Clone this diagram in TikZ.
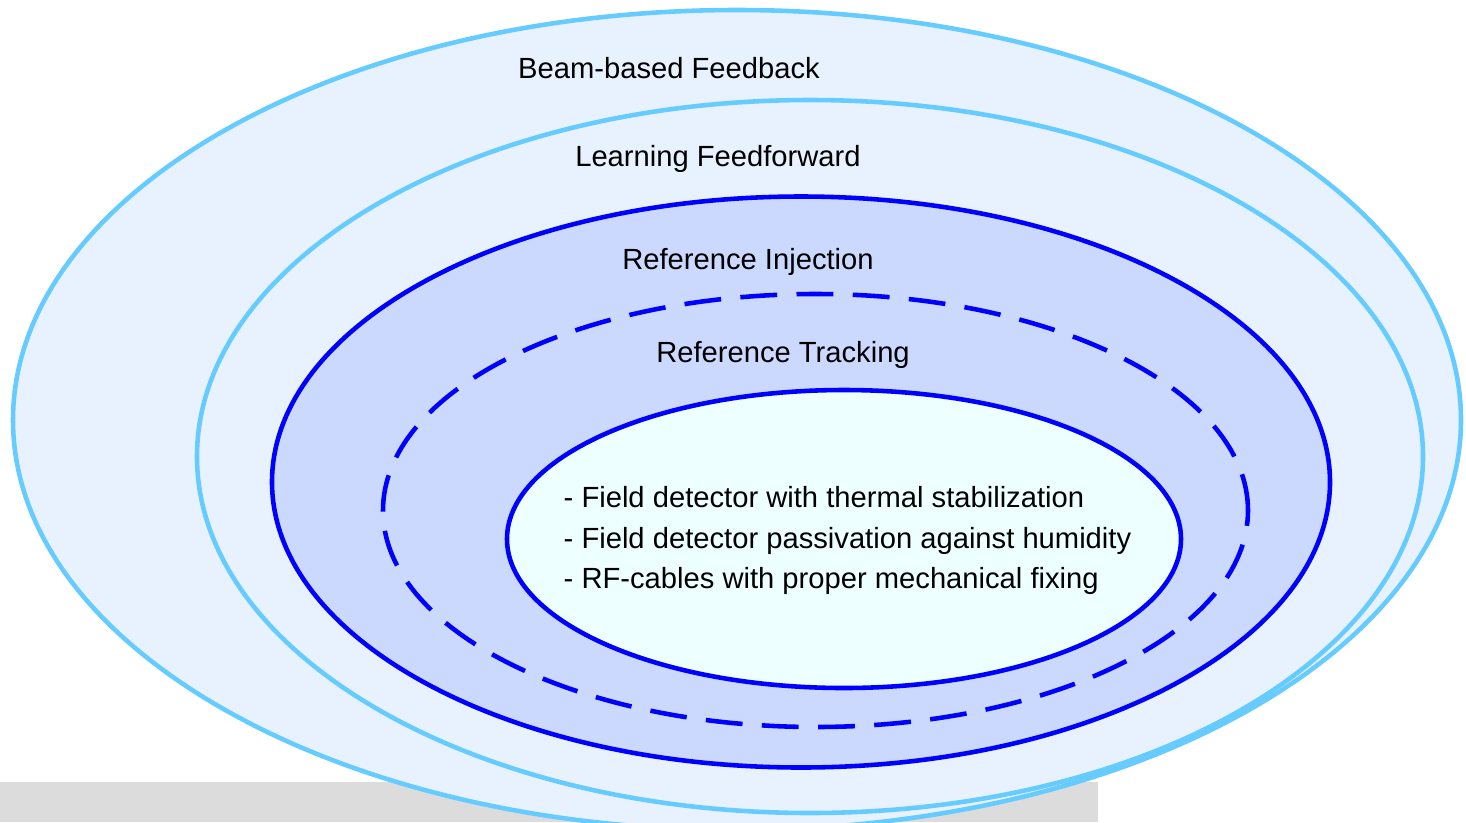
\documentclass[tikz,border=0pt]{standalone}
\usepackage{fontspec}
\setmainfont{Liberation Sans}
\usepackage{xcolor}
\usepackage{tikz}
\usetikzlibrary{shapes.geometric, positioning}
\definecolor{LoopSky}{RGB}{102, 204, 255}
\definecolor{LoopSkyBg}{RGB}{232, 242, 255}
\definecolor{LoopBlue}{RGB}{0, 0, 255}
\definecolor{LoopBlueBg}{RGB}{204, 217, 255}
\definecolor{LoopCoreBg}{RGB}{238, 255, 255}
\definecolor{BarGray}{RGB}{220, 220, 220}

\begin{document}
\begin{tikzpicture}[
    outerloop/.style={ellipse, draw=LoopSky, fill=LoopSkyBg, line width=1.3pt, inner sep=0pt},
    innerloop/.style={ellipse, draw=LoopBlue, fill=LoopBlueBg, line width=1.3pt, inner sep=0pt},
    dashloop/.style={ellipse, draw=LoopBlue, line width=1.3pt, inner sep=0pt, dash pattern=on 10.5pt off 5.5pt},
    label/.style={font=\fontsize{8.3}{10}\selectfont, inner sep=0pt}
]
\useasboundingbox (0,0) rectangle (14.66,-8.22);

% grey strip along the bottom edge
\fill [BarGray] (0,-7.82) rectangle (10.98,-8.22);

\node (beam) [outerloop, minimum width=14.48cm, minimum height=8.20cm] at (7.37,-4.20) {};
\node (learn) [outerloop, minimum width=12.26cm, minimum height=7.13cm] at (8.10,-4.565) {};
\node (inject) [innerloop, minimum width=10.58cm, minimum height=5.71cm] at (8.01,-4.82) {};
\node (track) [dashloop, minimum width=8.65cm, minimum height=4.33cm] at (8.155,-5.105) {};
\node (core) [innerloop, fill=LoopCoreBg, minimum width=6.74cm, minimum height=2.98cm] at (8.44,-5.39) {};

\node (beamtxt) [label] at (6.69,-0.68) {Beam-based Feedback};
\node (learntxt) [label] at (7.18,-1.585) {Learning Feedforward};
\node (injecttxt) [label] at (7.48,-2.615) {Reference Injection};
\node (tracktxt) [label] at (7.83,-3.545) {Reference Tracking};
\node (coretxt) [label, anchor=west, align=left, font=\fontsize{8.3}{11.4}\selectfont] at (5.63,-5.405)
    {- Field detector with thermal stabilization\\- Field detector passivation against humidity\\- RF-cables with proper mechanical fixing};

\end{tikzpicture}
\end{document}
